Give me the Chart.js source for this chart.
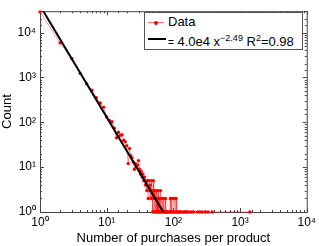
<!DOCTYPE html>
<html>
<head>
<meta charset="UTF-8">
<script src="https://cdn.jsdelivr.net/npm/chart.js"></script>
<style>
  body { margin: 0; background: #fff; }
  #wrap { position: relative; width: 319px; height: 246px; }
  .legend { position: absolute; left: 144px; top: 12px; width: 157px; height: 36px;
            border: 1px solid #555; background: #fff; color: #000;
            font-family: 'Liberation Sans', Arial, sans-serif; font-size: 13px; }
  .legend .row { position: absolute; left: 0; white-space: nowrap; }
  .legend .txt { position: absolute; left: 23px; top: -8px; }
  .legend sup { font-size: 9px; vertical-align: 5px; line-height: 0; }
  .legend .eq { font-size: 10px; }
  .swatch-red { position: absolute; left: 3px; top: 0; width: 16px; height: 1px; background: rgba(255,0,0,0.6); }
  .swatch-red i { position: absolute; left: 6px; top: -1.5px; width: 4px; height: 4px; border-radius: 2px; background: #f00; }
  .swatch-blk { position: absolute; left: 3px; top: -1px; width: 18px; height: 2px; background: #000; }
</style>
</head>
<body>
<div id="wrap">
  <canvas id="c" width="319" height="246"></canvas>
  <div class="legend">
    <div class="row" style="top:9px"><div class="swatch-red"><i></i></div><span class="txt">Data</span></div>
    <div class="row" style="top:26px"><div class="swatch-blk"></div><span class="txt" style="top:-5px"><span class="eq">=</span> 4.0e4 x<sup>−2.49</sup> R<sup>2</sup>=0.98</span></div>
  </div>
</div>
<script>
// histogram: number of products (count) having a given number of purchases
const purchases = [1,2,3,4,5,6,7,8,9,10,11,12,13,14,15,16,17,18,19,20,
  21,22,23,24,25,26,27,28,29,30,31,32,33,34,35,36,37,38,39,40,
  41,42,43,44,45,46,47,48,49,50,51,52,53,54,55,56,57,58,59,60,
  62,63,64,66,67,69,70,72,74,76,77,80,82,85,88,90,92,95,97,100,
  103,105,107,110,112,115,120,125,130,138,145,152,160,170,185,200,230,250,270,300,330,380,1400];
const counts = [29000,5900,2650,1230,725,520,355,270,218,132,110,103,74,45,60,51,53,40,37,30,
  12,26,18,16,13,9,12,10,11,14,9,7,8,6,7,5,6,4,5,3,
  5,2,5,3,4,2,5,3,1,5,2,3,1,2,3,1,2,1,3,1,
  2,1,3,1,2,1,2,1,1,2,1,1,1,1,1,2,1,2,1,1,
  2,2,1,2,1,1,1,1,1,1,1,1,1,1,1,1,1,1,1,1,1,1,1];
// power-law fit endpoints (4.0e4 x^-2.49)
const fitX = [1, 70];
const fitY = [40000, 1.02];
const decadeLabels = ['10⁰', '10¹', '10²', '10³', '10⁴'];

const family = "'Liberation Sans', Arial, sans-serif";

function decadeLabel(v) {
  const l = Math.log10(v);
  const r = Math.round(l);
  if (Math.abs(l - r) < 1e-6 && r >= 0 && r < decadeLabels.length) return decadeLabels[r];
  return '';
}

// MATLAB style box with inward ticks, drawn under the data
const boxTicks = {
  id: 'boxTicks',
  beforeDatasetsDraw(chart) {
    const { ctx, chartArea: a, scales } = chart;
    ctx.save();
    ctx.strokeStyle = '#444';
    ctx.lineWidth = 1;
    ctx.strokeRect(a.left + 0.5, a.top + 0.5, a.right - a.left, a.bottom - a.top);
    ctx.beginPath();
    scales.x.ticks.forEach(t => {
      const px = Math.round(scales.x.getPixelForValue(t.value)) + 0.5;
      const len = decadeLabel(t.value) ? 4 : 2;
      ctx.moveTo(px, a.bottom); ctx.lineTo(px, a.bottom - len);
      ctx.moveTo(px, a.top); ctx.lineTo(px, a.top + len);
    });
    scales.y.ticks.forEach(t => {
      const py = Math.round(scales.y.getPixelForValue(t.value)) + 0.5;
      const len = decadeLabel(t.value) ? 4 : 2;
      ctx.moveTo(a.left, py); ctx.lineTo(a.left + len, py);
      ctx.moveTo(a.right, py); ctx.lineTo(a.right - len, py);
    });
    ctx.stroke();
    ctx.restore();
  }
};

new Chart(document.getElementById('c'), {
  type: 'line',
  data: {
    datasets: [
      {
        label: 'fit',
        data: fitX.map((x, i) => ({ x: x, y: fitY[i] })),
        borderColor: '#000',
        borderWidth: 2,
        pointRadius: 0,
        order: 0
      },
      {
        label: 'Data',
        data: purchases.map((x, i) => ({ x: x, y: counts[i] })),
        borderColor: 'rgba(255,0,0,0.5)',
        borderWidth: 0.8,
        pointRadius: 1.7,
        pointBackgroundColor: '#f00',
        pointBorderWidth: 0,
        clip: 3,
        order: 1
      }
    ]
  },
  options: {
    responsive: false,
    animation: false,
    layout: { padding: { left: 0, right: 12, top: 6, bottom: 0 } },
    plugins: { legend: { display: false }, tooltip: { enabled: false } },
    scales: {
      x: {
        type: 'logarithmic',
        min: 1, max: 10000,
        grid: { display: false, drawTicks: false },
        border: { display: false },
        ticks: { autoSkip: false, maxRotation: 0, padding: 3, color: '#000',
                 font: { size: 12, family: family }, callback: decadeLabel },
        title: { display: true, text: 'Number of purchases per product', color: '#000',
                 font: { size: 13, family: family }, padding: 0 },
        afterFit(s) { s.height = 34; }
      },
      y: {
        type: 'logarithmic',
        min: 1, max: 30000,
        grid: { display: false, drawTicks: false },
        border: { display: false },
        ticks: { autoSkip: false, padding: 4, color: '#000',
                 font: { size: 12, family: family }, callback: decadeLabel },
        title: { display: true, text: 'Count', color: '#000',
                 font: { size: 13, family: family }, padding: 0 },
        afterFit(s) { s.width = 40; }
      }
    }
  },
  plugins: [boxTicks]
});
</script>
</body>
</html>
